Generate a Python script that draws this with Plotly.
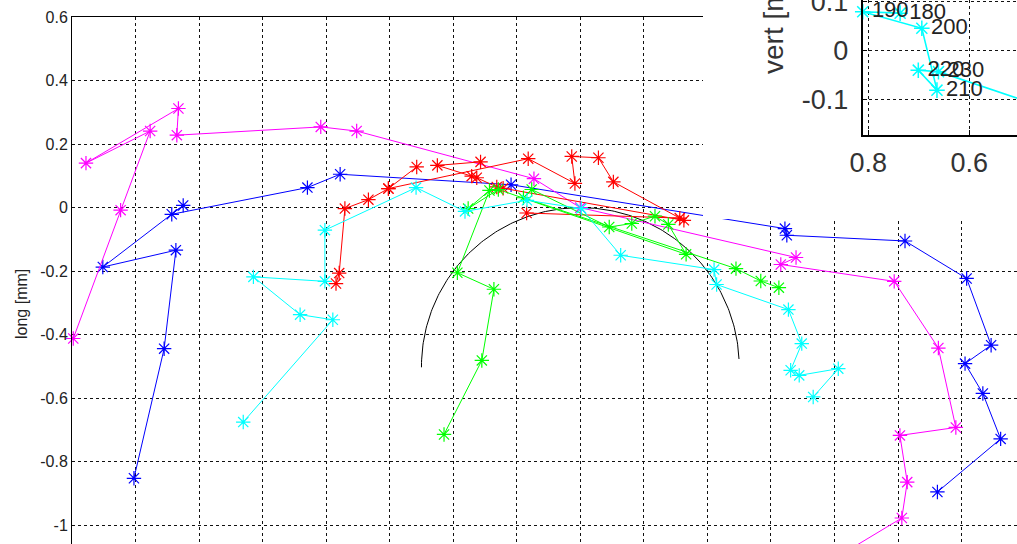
import numpy as np
import plotly.graph_objects as go

# ---- main panel: lateral (x) vs longitudinal (y) trajectories, mm ----
blue_x = [-1.405, -1.310, -1.273, -1.503, -1.250, -1.286, -0.859, -0.756, -0.218,
          0.644, 0.650, 1.022, 1.216, 1.293, 1.211, 1.267, 1.323, 1.124]
blue_y = [-0.852, -0.444, -0.134, -0.187, 0.007, -0.021, 0.063, 0.105, 0.072,
          -0.066, -0.087, -0.105, -0.223, -0.433, -0.491, -0.585, -0.728, -0.895]

magenta_x = [-1.596, -1.447, -1.354, -1.556, -1.265, -1.270, -0.817, -0.704, -0.146,
             0.000, 0.679, 0.631, 0.988, 1.127, 1.182, 1.006, 1.029, 1.012, 0.786]
magenta_y = [-0.412, -0.008, 0.241, 0.140, 0.312, 0.228, 0.254, 0.241, 0.091,
             0.000, -0.157, -0.179, -0.232, -0.442, -0.692, -0.717, -0.864, -0.977, -1.113]

red_x = [-0.769, -0.759, -0.741, -0.667, -0.604, -0.515, None,
         -0.604, -0.164, -0.017, -0.027, 0.057, 0.104, 0.313, -0.169, None,
         -0.314, -0.450, -0.342, -0.326, -0.263, -0.243, 0.326]
red_y = [-0.239, -0.206, -0.003, 0.025, 0.060, 0.128, None,
         0.060, 0.154, 0.076, 0.161, 0.157, 0.081, -0.033, -0.017, None,
         0.144, 0.133, 0.099, 0.094, 0.065, 0.061, -0.040]

green_x = [-0.429, -0.310, -0.272, -0.387, -0.286, -0.353, -0.258, 0.333, 0.277,
           0.235, 0.162, 0.091, -0.153, -0.179, 0.490, 0.568, 0.625]
green_y = [-0.714, -0.481, -0.257, -0.205, 0.054, -0.003, 0.057, -0.147, -0.053,
           -0.027, -0.050, -0.061, 0.057, 0.031, -0.192, -0.231, -0.252]

cyan_x = [-1.061, -0.779, -0.882, -1.029, -0.804, -0.804, -0.517, -0.363, -0.168,
          0.003, 0.127, 0.421, 0.429, 0.655, 0.697, 0.662, 0.689, 0.812, 0.733]
cyan_y = [-0.675, -0.353, -0.337, -0.218, -0.232, -0.071, 0.063, -0.012, 0.023,
          -0.003, -0.150, -0.195, -0.242, -0.321, -0.428, -0.512, -0.528, -0.507, -0.596]

# reference circle (centre, radius, angular extent in degrees)
arc_center = (0.0, -0.5)
arc_radius = 0.5
arc_deg = (2.7, 180.3)

main_yticks = [0.6, 0.4, 0.2, 0.0, -0.2, -0.4, -0.6, -0.8, -1.0]
main_yticklabels = ["0.6", "0.4", "0.2", "0", "-0.2", "-0.4", "-0.6", "-0.8", "-1"]
main_xticks = [-1.6, -1.4, -1.2, -1.0, -0.8, -0.6, -0.4, -0.2, 0.0, 0.2, 0.4, 0.6, 0.8, 1.0, 1.2]

# ---- inset: vertical position over time ----
inset_labels = ["180", "190", "200", "210", "220", "230", ""]
inset_x = [0.737, 0.811, 0.694, 0.664, 0.701, 0.661, 0.420]
inset_y = [0.077, 0.080, 0.046, -0.081, -0.040, -0.043, -0.127]
inset_xticks = [0.8, 0.6]
inset_xticklabels = ["0.8", "0.6"]
inset_yticks = [0.1, 0.0, -0.1]
inset_yticklabels = ["0.1", "0", "-0.1"]

FONT = "Arial, Liberation Sans, Helvetica, sans-serif"
GRID_DASH = "3px,3px"

W, H = 1017, 544
ML = 72
PX_PER_MM = 317.7
plot_w = W - ML
top_gap = 17

fig = go.Figure()

t = np.radians(np.linspace(arc_deg[0], arc_deg[1], 200))
fig.add_trace(go.Scatter(
    x=arc_center[0] + arc_radius * np.cos(t),
    y=arc_center[1] + arc_radius * np.sin(t),
    mode="lines", line=dict(color="black", width=1), hoverinfo="skip"))


def traj(xs, ys, color):
    return go.Scatter(
        x=xs, y=ys, mode="lines+markers",
        line=dict(color=color, width=1),
        marker=dict(symbol="asterisk-open", size=12,
                    line=dict(color=color, width=1.2)),
        cliponaxis=False, hoverinfo="skip")


fig.add_trace(traj(blue_x, blue_y, "#0000FF"))
fig.add_trace(traj(magenta_x, magenta_y, "#FF00FF"))
fig.add_trace(traj(red_x, red_y, "#FF0000"))
fig.add_trace(traj(green_x, green_y, "#00FF00"))
fig.add_trace(traj(cyan_x, cyan_y, "#00FFFF"))

# blank panel behind the inset
fig.add_trace(go.Scatter(x=[None], y=[None], xaxis="x2", yaxis="y2",
                         hoverinfo="skip"))

fig.add_trace(go.Scatter(
    x=inset_x, y=inset_y, text=inset_labels, xaxis="x3", yaxis="y3",
    mode="lines+markers+text", textposition="middle right",
    textfont=dict(family=FONT, size=22, color="#222"),
    line=dict(color="#00FFFF", width=1.6),
    marker=dict(symbol="asterisk-open", size=13,
                line=dict(color="#00FFFF", width=1.5)),
    cliponaxis=False, hoverinfo="skip"))

x_lo = -1.6
x_hi = x_lo + plot_w / PX_PER_MM
y_hi = 0.6
y_lo = y_hi - (H - top_gap) / PX_PER_MM

cover_left_px, cover_bottom_px = 703, 219
inset_left_px, inset_bottom_px = 862.5, 135

grid = dict(showgrid=True, gridcolor="#111", gridwidth=1, griddash=GRID_DASH,
            zeroline=False, automargin=False)
plain = dict(showgrid=False, zeroline=False, showline=False,
             showticklabels=False, ticks="", automargin=False)

fig.update_layout(
    width=W, height=H,
    margin=dict(l=ML, r=0, t=0, b=0, pad=0, autoexpand=False),
    paper_bgcolor="white", plot_bgcolor="white",
    showlegend=False,
    font=dict(family=FONT, color="#222"),
    xaxis=dict(domain=[0, 1], range=[x_lo, x_hi], side="top",
               tickvals=main_xticks, showticklabels=False, ticks="",
               showline=True, linecolor="black", linewidth=1, **grid),
    yaxis=dict(domain=[0, 1 - top_gap / H], range=[y_lo, y_hi],
               tickvals=main_yticks, ticktext=main_yticklabels, ticks="",
               tickfont=dict(size=16, color="#222"), ticklabeloverflow="allow",
               showline=True, linecolor="black", linewidth=1, **grid),
    xaxis2=dict(domain=[(cover_left_px - ML) / plot_w, 1], anchor="y2",
                range=[0, 1], **plain),
    yaxis2=dict(domain=[1 - cover_bottom_px / H, 1], anchor="x2",
                range=[0, 1], **plain),
    xaxis3=dict(domain=[(inset_left_px - ML) / plot_w, 1], anchor="y3",
                range=[0.8115, 0.5055], tickvals=inset_xticks,
                ticktext=inset_xticklabels, ticks="inside", ticklen=5,
                tickcolor="black", tickfont=dict(size=27, color="#333"),
                ticklabelstandoff=3, ticklabeloverflow="allow",
                showline=True, linecolor="black", linewidth=1.6, **grid),
    yaxis3=dict(domain=[1 - inset_bottom_px / H, 1], anchor="x3",
                range=[-0.173, 0.104], tickvals=inset_yticks,
                ticktext=inset_yticklabels, ticks="inside", ticklen=5,
                tickcolor="black", tickfont=dict(size=27, color="#333"),
                ticklabelstandoff=7, ticklabeloverflow="allow",
                showline=True, linecolor="black", linewidth=1.6, **grid),
    annotations=[
        dict(text="long [mm]", textangle=-90, x=(21 - ML) / plot_w, y=1 - 304 / H,
             xref="paper", yref="paper", showarrow=False,
             xanchor="center", yanchor="middle",
             font=dict(family=FONT, size=16, color="#222")),
        dict(text="vert [mm]", textangle=-90, x=(773 - ML) / plot_w, y=1 - 16 / H,
             xref="paper", yref="paper", showarrow=False,
             xanchor="center", yanchor="middle",
             font=dict(family=FONT, size=28, color="#333")),
    ],
)

fig.write_html("out.html")
